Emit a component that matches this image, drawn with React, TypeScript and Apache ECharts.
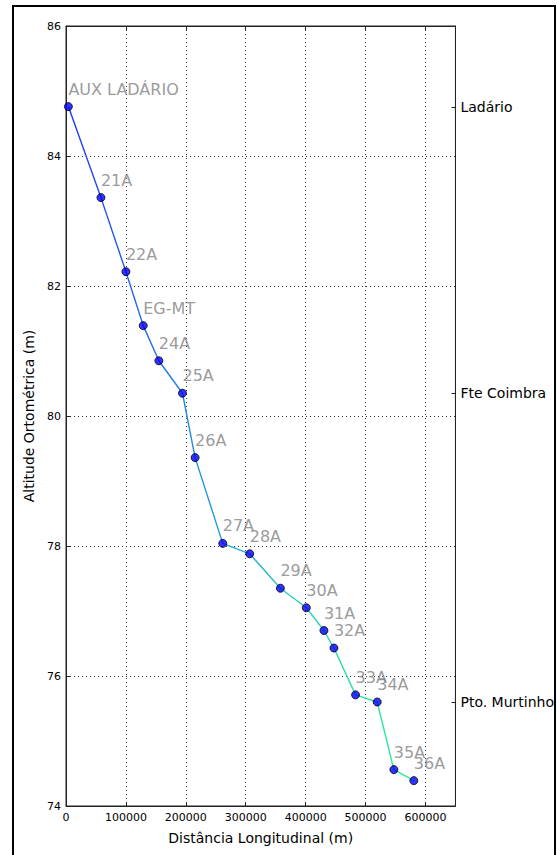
import React, { useEffect, useRef } from "react";
import * as echarts from "echarts";

const stations = ["AUX LADÁRIO", "21A", "22A", "EG-MT", "24A", "25A", "26A", "27A", "28A", "29A", "30A", "31A", "32A", "33A", "34A", "35A", "36A"];
const distances = [4000, 58300, 100000, 128900, 155000, 194400, 215500, 261600, 306600, 357800, 401100, 430500, 447200, 483300, 519400, 547200, 580500];
const altitudes = [84.76, 83.36, 82.22, 81.39, 80.85, 80.35, 79.36, 78.04, 77.88, 77.35, 77.05, 76.7, 76.43, 75.71, 75.6, 74.56, 74.39];
const refNames = ["Ladário", "Fte Coimbra", "Pto. Murtinho"];
const refAltitudes = [84.75, 80.35, 75.6];
const lineColors = ["#2233ff", "#1f88e0", "#2ad0b8", "#2ef090"];

const FONT = "DejaVu Sans";

export default function App() {
  const ref = useRef<HTMLDivElement>(null);
  useEffect(() => {
    if (!ref.current) return;
    const chart = echarts.init(ref.current, undefined, { renderer: "svg" });
    const pts = distances.map((d, i) => [d, altitudes[i]]);
    const gridLine = { show: true, lineStyle: { color: "#333", type: [1, 3] as any, width: 1 } };
    chart.setOption({
      animation: false,
      backgroundColor: "#fff",
      textStyle: { fontFamily: FONT },
      grid: { left: 66, right: 100, top: 26, bottom: 49, show: true, borderColor: "#222", borderWidth: 1 },
      visualMap: {
        show: false,
        type: "continuous",
        seriesIndex: 0,
        dimension: 0,
        min: distances[0],
        max: distances[distances.length - 1],
        inRange: { color: lineColors },
      },
      xAxis: [
        {
          type: "value",
          min: 0,
          max: 650000,
          interval: 100000,
          name: "Distância Longitudinal (m)",
          nameLocation: "middle",
          nameGap: 25,
          nameTextStyle: { fontFamily: FONT, fontSize: 14, color: "#000" },
          axisLine: { show: true, onZero: false, lineStyle: { color: "#222", width: 1 } },
          axisTick: { show: true, inside: true, length: 4, lineStyle: { color: "#222" } },
          axisLabel: {
            fontFamily: FONT,
            fontSize: 11,
            color: "#000",
            margin: 6,
            formatter: (v: number) => (v > 600000 ? "" : String(v)),
          },
          splitLine: gridLine,
        },
        {
          type: "value",
          position: "top",
          min: 0,
          max: 650000,
          interval: 100000,
          axisLine: { show: true, onZero: false, lineStyle: { color: "#222", width: 1 } },
          axisTick: { show: true, inside: true, length: 4, lineStyle: { color: "#222" } },
          axisLabel: { show: false },
          splitLine: { show: false },
        },
      ],
      yAxis: [
        {
          type: "value",
          min: 74,
          max: 86,
          interval: 2,
          name: "Altitude Ortométrica (m)",
          nameLocation: "middle",
          nameGap: 26,
          nameTextStyle: { fontFamily: FONT, fontSize: 14, color: "#000" },
          axisLine: { show: true, onZero: false, lineStyle: { color: "#222", width: 1 } },
          axisTick: { show: true, inside: true, length: 4, lineStyle: { color: "#222" } },
          axisLabel: { fontFamily: FONT, fontSize: 11, color: "#000", margin: 5 },
          splitLine: gridLine,
        },
        {
          type: "value",
          position: "right",
          min: 74,
          max: 86,
          axisLine: { show: true, onZero: false, lineStyle: { color: "#222", width: 1 } },
          axisTick: { show: true, inside: true, length: 4, customValues: refAltitudes, lineStyle: { color: "#222" } },
          axisLabel: {
            customValues: refAltitudes,
            fontFamily: FONT,
            fontSize: 14,
            color: "#000",
            margin: 5,
            formatter: (v: number) => {
              let best = 0;
              refAltitudes.forEach((r, i) => {
                if (Math.abs(r - v) < Math.abs(refAltitudes[best] - v)) best = i;
              });
              return refNames[best];
            },
          },
          splitLine: { show: false },
        },
      ],
      series: [
        {
          type: "line",
          data: pts,
          showSymbol: false,
          lineStyle: { width: 1.4 },
          z: 2,
        },
        {
          type: "scatter",
          data: pts,
          symbolSize: 8,
          itemStyle: { color: "#0000ff", borderColor: "#000", borderWidth: 1 },
          z: 3,
          label: {
            show: true,
            position: "top",
            align: "left",
            distance: 5,
            fontFamily: FONT,
            fontSize: 16,
            color: "#808080",
            formatter: (p: any) => stations[p.dataIndex],
          },
        },
      ],
      graphic: [
        {
          type: "rect",
          z: 100,
          silent: true,
          shape: { x: 13, y: 6, width: 542, height: 880 },
          style: { fill: "none", stroke: "#000", lineWidth: 2 },
        },
      ],
    });
    return () => chart.dispose();
  }, []);
  return (
    <div
      ref={ref}
      style={{ position: "fixed", left: 0, top: 0, width: 557, height: 855, background: "#fff" }}
    />
  );
}
